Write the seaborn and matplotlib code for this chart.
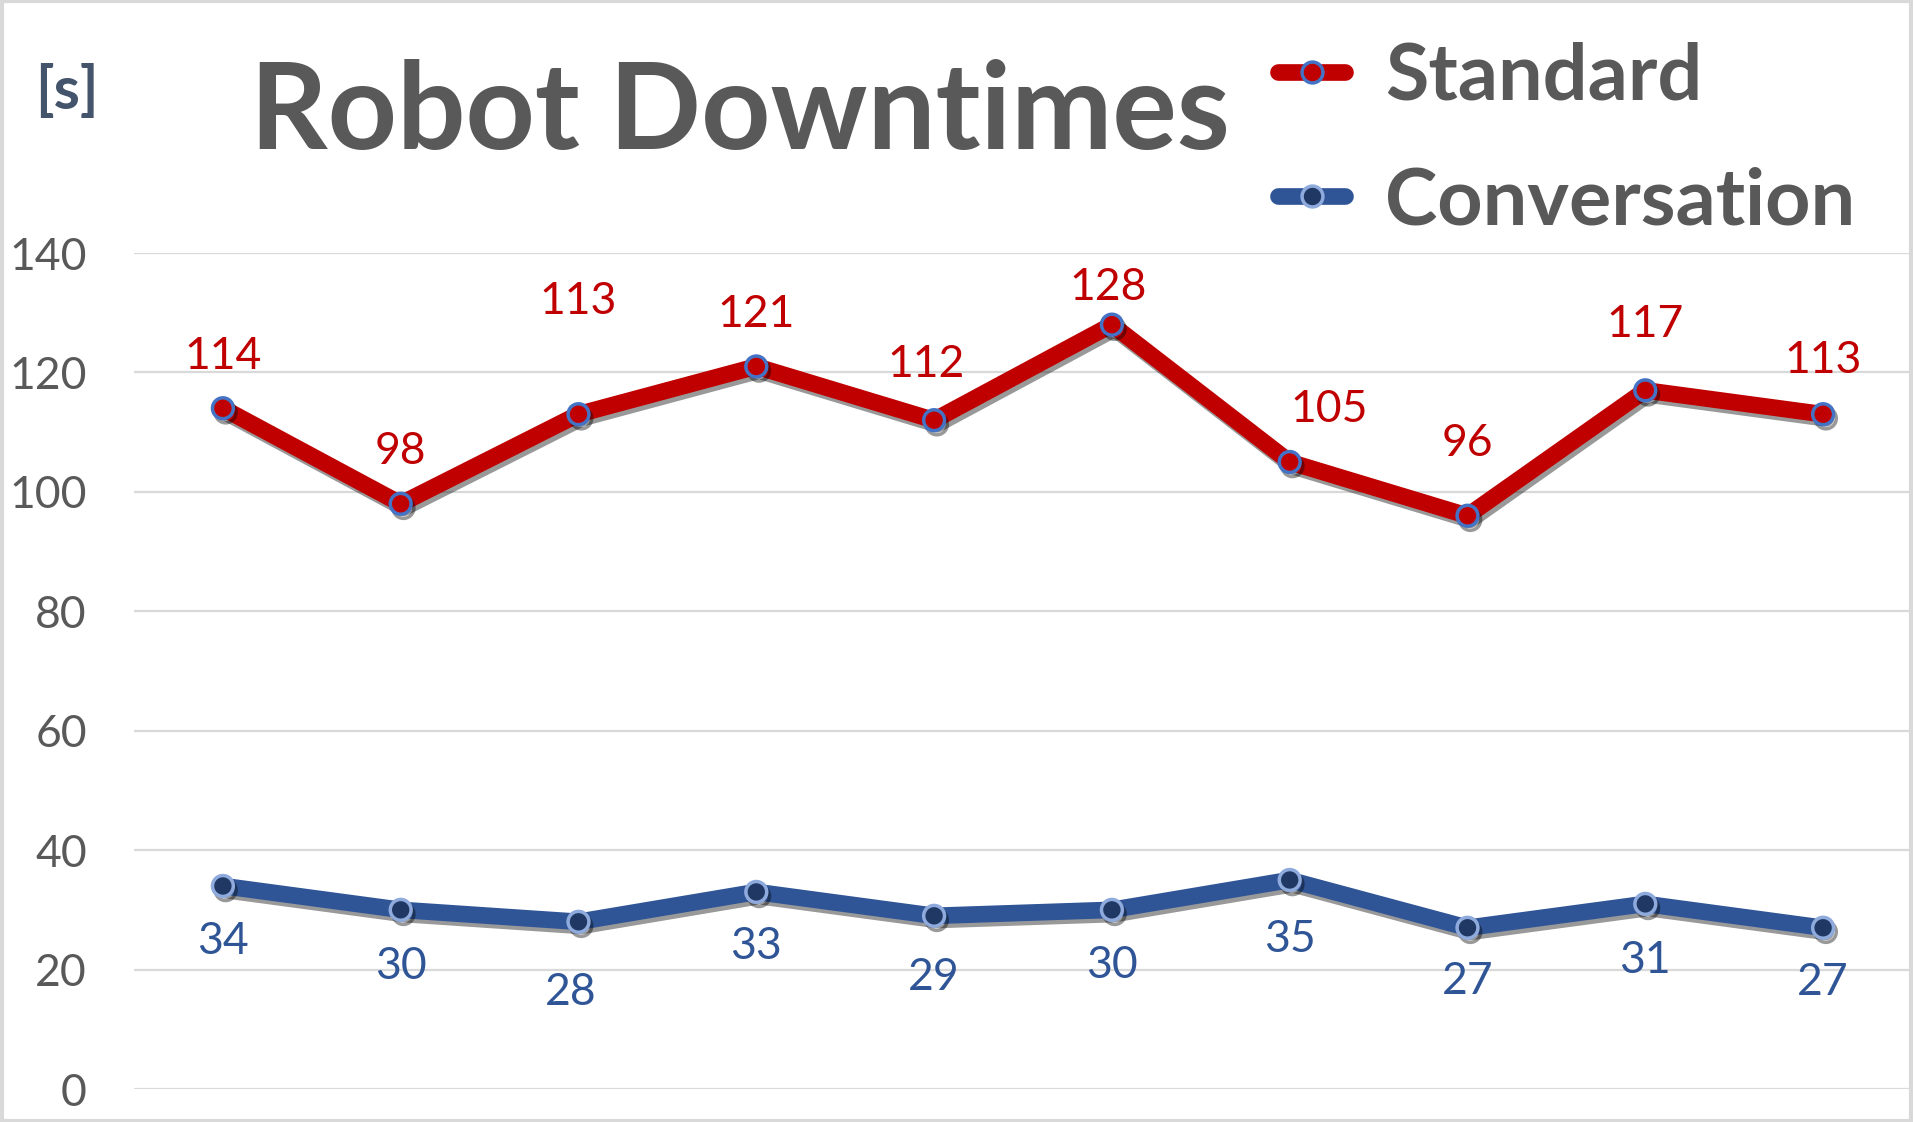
import numpy as np
import pandas as pd
import matplotlib

matplotlib.use('Agg')

import matplotlib.pyplot as plt
import matplotlib.patheffects as pe
from matplotlib.lines import Line2D
from matplotlib.patches import Rectangle
import seaborn as sns

sns.set_style("white")
plt.rcParams['font.family'] = ['Lato', 'DejaVu Sans']

# data
runs = list(range(10))
standard = [114, 98, 113, 121, 112, 128, 105, 96, 117, 113]
conversation = [34, 30, 28, 33, 29, 30, 35, 27, 31, 27]

# label offsets in pixels (dx, dy), as placed in the original
standard_offsets = [(0, 52), (0, 52), (0, 113), (0, 52), (-8, 56), (-4, 37), (39, 52), (0, 72), (0, 66), (0, 54)]
conversation_offsets = [(0, -56), (0, -57), (-8, -71), (0, -55), (0, -62), (0, -56), (0, -59), (0, -54), (0, -57), (0, -55)]

red = "#C00000"
blue = "#2F5597"
grey = "#595959"

df = pd.DataFrame({"Run": runs, "Standard": standard, "Conversation": conversation})

fig = plt.figure(figsize=(19.13, 11.22), dpi=100)
ax = fig.add_axes([134 / 1913, 1 - 1089 / 1122, 1778 / 1913, (1089 - 253) / 1122])

shadow = [pe.SimpleLineShadow(offset=(2, -3), alpha=0.4, shadow_color="black"), pe.Normal()]

sns.lineplot(data=df, x="Run", y="Standard", ax=ax, color=red, linewidth=12,
             marker="o", markersize=15, markerfacecolor=red, markeredgecolor="#4472C4",
             markeredgewidth=2.5, path_effects=shadow, zorder=3)
sns.lineplot(data=df, x="Run", y="Conversation", ax=ax, color=blue, linewidth=12,
             marker="o", markersize=15, markerfacecolor="#203864", markeredgecolor="#8FAADC",
             markeredgewidth=2.5, path_effects=shadow, zorder=3)

for x, y, (dx, dy) in zip(runs, standard, standard_offsets):
    ax.annotate(str(y), (x, y), xytext=(dx, dy), textcoords="offset pixels",
                ha="center", va="center", fontsize=32, color=red)
for x, y, (dx, dy) in zip(runs, conversation, conversation_offsets):
    ax.annotate(str(y), (x, y), xytext=(dx, dy), textcoords="offset pixels",
                ha="center", va="center", fontsize=32, color=blue)

ax.set_xlim(-0.5, 9.5)
ax.set_ylim(0, 140)
ax.set_yticks(np.arange(0, 141, 20))
ax.set_xticks([])
ax.set_xlabel("")
ax.set_ylabel("")
ax.grid(axis="y", color="#D9D9D9", linewidth=1.6)
ax.set_axisbelow(True)
for s in ax.spines.values():
    s.set_visible(False)
ax.tick_params(axis="y", length=0, pad=34, labelsize=32, labelcolor=grey)

fig.text(740 / 1913, 1 - 149 / 1122, "Robot Downtimes", ha="center", va="baseline",
         fontsize=87, fontweight="bold", color=grey)
fig.text(67 / 1913, 1 - 92 / 1122, "[s]", ha="center", va="center",
         fontsize=43, fontweight="bold", color="#44546A")

handles = [
    Line2D([], [], color=red, linewidth=12, solid_capstyle="round", marker="o", markersize=15,
           markerfacecolor=red, markeredgecolor="#4472C4", markeredgewidth=2.5),
    Line2D([], [], color=blue, linewidth=12, solid_capstyle="round", marker="o", markersize=15,
           markerfacecolor="#203864", markeredgecolor="#8FAADC", markeredgewidth=2.5),
]
leg = fig.legend(handles, ["Standard", "Conversation"], loc="center left",
                 bbox_to_anchor=(1278 / 1913, 1 - 140 / 1122), frameon=False,
                 fontsize=57, handlelength=0.85, handletextpad=0.5, labelspacing=0.66,
                 borderpad=0, borderaxespad=0)
for t in leg.get_texts():
    t.set_color(grey)
    t.set_fontweight("bold")

fig.patches.append(Rectangle((0.001, 0.001), 0.998, 0.998, transform=fig.transFigure,
                             fill=False, edgecolor="#D9D9D9", linewidth=3))

plt.savefig("out.png", dpi=100)
